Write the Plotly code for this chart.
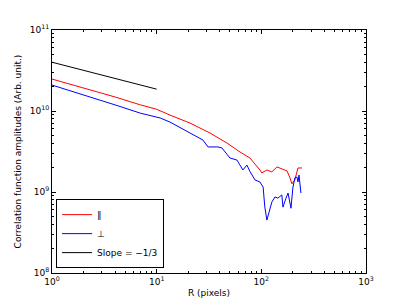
import plotly.graph_objects as go

# ---- data ----
r_par = [1, 2, 4, 7, 10, 13.4, 19.5, 20.8, 32.3, 46.9, 62.5, 77.8, 97, 101, 113, 126,
         141, 157, 176, 188, 196, 209, 224, 244]
amp_par = [2.48e10, 1.93e10, 1.49e10, 1.19e10, 1.05e10, 8.9e9, 7.3e9, 7.1e9, 5.35e9, 4.03e9,
           3.12e9, 2.63e9, 1.87e9, 1.72e9, 1.87e9, 1.77e9, 2.04e9, 1.95e9, 1.82e9, 1.49e9,
           1.26e9, 1.41e9, 1.98e9, 1.98e9]

r_perp = [1, 2, 4, 7, 8.6, 10.8, 13.4, 20.8, 27.7, 30.9, 38.5, 42, 50.1, 58.5, 66.7, 72.8,
          77.8, 86.9, 97, 104, 108, 113, 118, 126, 135, 144, 157, 161, 172, 180, 192, 200,
          209, 219, 224, 229, 239]
amp_perp = [2.09e10, 1.59e10, 1.19e10, 9.4e9, 8.9e9, 8.2e9, 7.3e9, 5.35e9, 4.38e9, 3.6e9,
            3.6e9, 3.5e9, 2.63e9, 2.48e9, 1.87e9, 2.15e9, 1.8e9, 1.41e9, 1.33e9, 1.15e9,
            6.5e8, 4.5e8, 5.7e8, 7.5e8, 8.7e8, 8.4e8, 9.2e8, 6.5e8, 8.4e8, 9.7e8, 6.3e8,
            1.12e9, 1.49e9, 1.53e9, 1.33e9, 1.62e9, 9.7e8]

r_slope = [1, 10]
amp_slope = [4.0e10, 1.86e10]

x_tickvals = [1, 10, 100, 1000]
x_ticktext = ["10<sup>0</sup>", "10<sup>1</sup>", "10<sup>2</sup>", "10<sup>3</sup>"]
y_tickvals = [1e8, 1e9, 1e10, 1e11]
y_ticktext = ["10<sup>8</sup>", "10<sup>9</sup>", "10<sup>10</sup>", "10<sup>11</sup>"]

x_minor = [m * 10 ** d for d in range(0, 3) for m in range(2, 10)]
y_minor = [m * 10 ** d for d in range(8, 11) for m in range(2, 10)]

fig = go.Figure()
fig.add_trace(go.Scatter(x=r_par, y=amp_par, mode="lines", name="∥",
                         line=dict(color="#ff0000", width=1)))
fig.add_trace(go.Scatter(x=r_perp, y=amp_perp, mode="lines", name="⊥",
                         line=dict(color="#0000ff", width=1)))
fig.add_trace(go.Scatter(x=r_slope, y=amp_slope, mode="lines", name="Slope = −1/3",
                         line=dict(color="#000000", width=1)))

axis_common = dict(
    showgrid=False, zeroline=False, showline=True, linecolor="black", linewidth=1,
    mirror="allticks", ticks="inside", ticklen=4, tickcolor="black", tickwidth=1,
    tickfont=dict(size=9, color="black"), automargin=False,
)
fig.update_xaxes(type="log", range=[0, 3], tickmode="array", tickvals=x_tickvals,
                 ticktext=x_ticktext,
                 minor=dict(tickmode="array", tickvals=x_minor, ticks="inside", ticklen=2,
                            tickcolor="black", showgrid=False),
                 title=dict(text="R (pixels)", font=dict(size=9, color="black"), standoff=3),
                 **axis_common)
fig.update_yaxes(type="log", range=[8, 11], tickmode="array", tickvals=y_tickvals,
                 ticktext=y_ticktext,
                 minor=dict(tickmode="array", tickvals=y_minor, ticks="inside", ticklen=2,
                            tickcolor="black", showgrid=False),
                 title=dict(text="Correlation function amplitudes (Arb. unit.)",
                            font=dict(size=9, color="black"), standoff=6),
                 **axis_common)

fig.update_layout(
    width=399, height=295,
    margin=dict(l=44, r=41, t=22, b=30, autoexpand=False),
    plot_bgcolor="white", paper_bgcolor="white",
    font=dict(family="DejaVu Sans", size=9, color="black"),
    showlegend=True,
    legend=dict(x=0.013, y=0.02, xanchor="left", yanchor="bottom",
                bgcolor="white", bordercolor="black", borderwidth=1,
                font=dict(size=9), itemwidth=30, tracegroupgap=0),
)

fig.write_html("out.html")
